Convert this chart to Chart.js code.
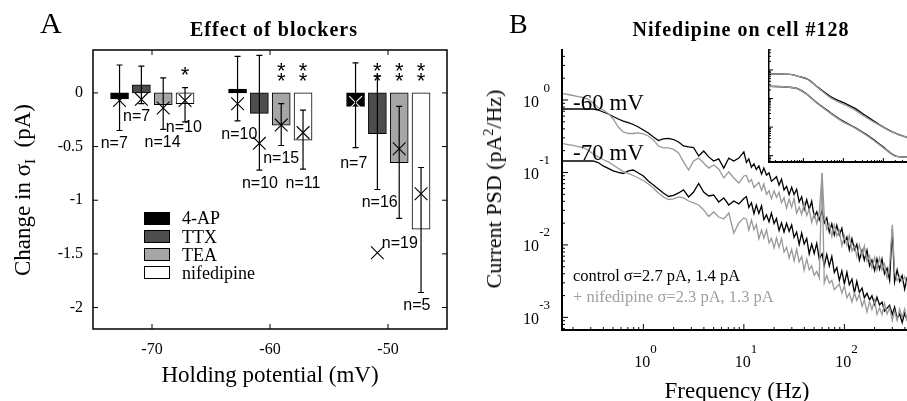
<!DOCTYPE html>
<html lang="en">
<head>
<meta charset="UTF-8">
<title>Effect of blockers / Nifedipine on cell #128</title>
<script src="https://cdn.jsdelivr.net/npm/chart.js"></script>
<style>
  body { margin: 0; background: #fff; }
  #fig { position: relative; width: 907px; height: 401px; overflow: hidden; font-family: 'Liberation Serif', serif; color: #000; }
  #fig canvas { position: absolute; }
  .t { position: absolute; line-height: 1; white-space: nowrap; }
  .c { transform: translateX(-50%); }
  .rot { transform: translate(-50%, -50%) rotate(-90deg); }
  .title { font-weight: bold; font-size: 20px; letter-spacing: 1px; }
  .key { position: absolute; left: 144px; width: 24px; height: 11px; border: 1px solid #000; }
</style>
</head>
<body>
<div id="fig">
  <canvas id="chartA" width="460" height="401" style="left:0;top:0"></canvas>
  <canvas id="chartB" width="447" height="401" style="left:460px;top:0"></canvas>
  <canvas id="inset" width="147" height="130" style="left:760px;top:40px"></canvas>

  <div class="t" style="left:40px;top:8px;font-size:30px">A</div>
  <div class="t" style="left:509px;top:10px;font-size:28px">B</div>
  <div class="t c title" style="left:274px;top:19px">Effect of blockers</div>
  <div class="t c title" style="left:741px;top:19px">Nifedipine on cell #128</div>

  <div class="t c" style="left:270px;top:363px;font-size:23px">Holding potential (mV)</div>
  <div class="t rot" style="left:22px;top:190px;font-size:23px">Change in σ<span style="font-size:15px;position:relative;top:5px">I</span>&nbsp;&nbsp;(pA)</div>
  <div class="t c" style="left:737px;top:379px;font-size:23px">Frequency (Hz)</div>
  <div class="t rot" style="left:494px;top:189px;font-size:22px">Current PSD (pA<span style="font-size:14px;position:relative;top:-8px">2</span>/Hz)</div>

  <div class="key" style="top:212px;background:#000"></div>
  <div class="key" style="top:230px;background:#4d4d4d"></div>
  <div class="key" style="top:248px;background:#a6a6a6"></div>
  <div class="key" style="top:266px;background:#fff"></div>
  <div class="t" style="left:182px;top:209px;font-size:18px">4-AP</div>
  <div class="t" style="left:182px;top:228px;font-size:18px">TTX</div>
  <div class="t" style="left:182px;top:246px;font-size:18px">TEA</div>
  <div class="t" style="left:182px;top:264px;font-size:18px">nifedipine</div>

  <div class="t" style="left:573px;top:91px;font-size:23px">-60 mV</div>
  <div class="t" style="left:573px;top:141px;font-size:23px">-70 mV</div>
  <div class="t" style="left:573px;top:268px;font-size:16.5px">control σ=2.7 pA, 1.4 pA</div>
  <div class="t" style="left:573px;top:289px;font-size:16.5px;color:#a0a0a0">+ nifedipine σ=2.3 pA, 1.3 pA</div>
</div>

<script>
// ---- panel A: change in current noise per blocker ----
const holdingPotentials = [-70, -60, -50];
const blockers = ['4-AP', 'TTX', 'TEA', 'nifedipine'];
const blockerOffset = [-2.75, -0.9, 0.95, 2.8]; // mV, bar position within a group
const barColors = ['#000000', '#4d4d4d', '#a6a6a6', '#ffffff'];

// rows: blockers, columns: holding potentials
const meanChange = [
  [-0.055, 0.035, -0.125],
  [0.075, -0.19, -0.38],
  [-0.11, -0.30, -0.65],
  [-0.10, -0.44, -1.27]
];
const errTop = [
  [0.26, 0.34, 0.28],
  [0.25, 0.35, 0.16],
  [0.14, -0.10, -0.125],
  [0.05, -0.16, -0.695]
];
const errBottom = [
  [-0.35, -0.26, -0.51],
  [-0.10, -0.72, -0.90],
  [-0.34, -0.49, -1.17],
  [-0.27, -0.71, -1.86]
];
const medianChange = [
  [-0.07, -0.10, -0.09],
  [-0.06, -0.47, -1.49],
  [-0.14, -0.30, -0.52],
  [-0.07, -0.37, -0.94]
];
const cellCounts = [
  [7, 10, 7],
  [7, 10, 16],
  [14, 15, 19],
  [10, 11, 5]
];
const countLabelX = [
  [-73.2, -62.6, -52.9],
  [-71.3, -60.85, -50.7],
  [-69.1, -59.05, -49.0],
  [-67.3, -57.2, -47.55]
];
const countLabelY = [
  [-0.46, -0.37, -0.64],
  [-0.21, -0.83, -1.01],
  [-0.45, -0.60, -1.39],
  [-0.31, -0.83, -1.97]
];
const starCount = [
  [0, 0, 0],
  [0, 0, 2],
  [0, 2, 2],
  [1, 2, 2]
];
const xTicksA = [-70, -60, -50];
const yTicksA = [0, -0.5, -1, -1.5, -2];

// ---- panel B: current PSD, control vs nifedipine ----
const freqHz = [0.158, 0.178, 0.2, 0.224, 0.251, 0.282, 0.316, 0.355, 0.398, 0.447, 0.501, 0.562, 0.631, 0.708, 0.794, 0.891,
  1, 1.12, 1.26, 1.41, 1.58, 1.78, 2, 2.24, 2.51, 2.82, 3.16, 3.55, 3.98, 4.47, 5.01, 5.62, 6.31, 7.08, 7.94, 8.91, 10,
  10.6, 11.2, 11.9, 12.6, 13.3, 14.1, 15, 15.8, 16.8, 17.8, 18.8, 20, 21.1, 22.4, 23.7, 25.1, 26.6, 28.2, 29.9, 31.6,
  33.5, 35.5, 37.6, 39.8, 42.2, 44.7, 47.3, 50.1, 53.1, 56.2, 60, 63.1, 66.8, 70.8, 75, 79.4, 84.1, 89.1, 94.4, 100,
  106, 112, 119, 126, 133, 141, 150, 158, 168, 178, 188, 200, 211, 224, 237, 251, 266, 282, 300, 316, 335, 355, 376, 398, 422];
const psdCtrl60 = [0.751, 0.751, 0.751, 0.751, 0.751, 0.751, 0.751, 0.728, 0.683, 0.641, 0.592, 0.547, 0.513, 0.489, 0.459, 0.424,
  0.386, 0.351, 0.309, 0.276, 0.290, 0.296, 0.285, 0.263, 0.232, 0.225, 0.221, 0.169, 0.198, 0.164, 0.144, 0.154, 0.115, 0.158, 0.144, 0.158, 0.192,
  0.138, 0.154, 0.118, 0.132, 0.110, 0.123, 0.0948, 0.115, 0.0921, 0.0987,
  0.0759, 0.0813, 0.0872, 0.0670, 0.0812, 0.0575, 0.0642, 0.0494, 0.0624, 0.0497,
  0.0587, 0.0392, 0.0463, 0.0309, 0.0421, 0.0309, 0.0401, 0.0243, 0.0287, 0.0221,
  0.0301, 0.0201, 0.0237, 0.0151, 0.0196, 0.0137, 0.0187, 0.0137, 0.0170, 0.0108,
  0.0128, 0.00856, 0.0122, 0.00859, 0.0102, 0.00617, 0.00842, 0.00619, 0.00845, 0.00513,
  0.00619, 0.00442, 0.00645, 0.00461, 0.00641, 0.00397, 0.00479, 0.00326, 0.0166, 0.00309,
  0.00453, 0.00311, 0.00377, 0.00246, 0.00362];
const psdNif60 = [1.229, 1.191, 1.154, 1.117, 1.083, 1.032, 0.909, 0.788, 0.728, 0.651, 0.547, 0.424, 0.362, 0.345, 0.345, 0.351,
  0.340, 0.319, 0.281, 0.232, 0.218, 0.218, 0.208, 0.186, 0.140, 0.108, 0.144, 0.158, 0.135, 0.115, 0.127, 0.112, 0.0840, 0.102, 0.0840, 0.0716, 0.0895,
  0.0909, 0.0737, 0.0798, 0.0621, 0.0672, 0.0728, 0.0566, 0.0694, 0.0497, 0.0561,
  0.0436, 0.0557, 0.0452, 0.0531, 0.0381, 0.0448, 0.0321, 0.0427, 0.0332, 0.0438,
  0.0274, 0.0333, 0.0264, 0.0371, 0.0255, 0.0311, 0.0204, 0.0273, 0.0197, 0.0276,
  0.0984, 0.0255, 0.0163, 0.0195, 0.0131, 0.0189, 0.0133, 0.0158, 0.00969, 0.0133,
  0.00984, 0.0135, 0.00826, 0.00984, 0.00694, 0.0100, 0.00705, 0.00969, 0.00592, 0.00705,
  0.00480, 0.00668, 0.00455, 0.00664, 0.00452, 0.00545, 0.00354, 0.00516, 0.0189, 0.00424,
  0.00322, 0.00375, 0.00313, 0.00364, 0.00276];
const psdCtrl70 = [0.144, 0.144, 0.144, 0.144, 0.144, 0.144, 0.144, 0.137, 0.123, 0.114, 0.105, 0.100, 0.0969, 0.105, 0.108, 0.0984,
  0.0895, 0.0763, 0.0672, 0.0592, 0.0522, 0.0467, 0.0482, 0.0522, 0.0574, 0.0459, 0.0538, 0.0705, 0.0538, 0.0474, 0.0489, 0.0392, 0.0445, 0.0356, 0.0404, 0.0368, 0.0438,
  0.0465, 0.0329, 0.0382, 0.0270, 0.0355, 0.0273, 0.0346, 0.0224, 0.0260, 0.0208,
  0.0276, 0.0197, 0.0231, 0.0158, 0.0202, 0.0150, 0.0199, 0.0154, 0.0189, 0.0127,
  0.0151, 0.0102, 0.0146, 0.0103, 0.0123, 0.00751, 0.0103, 0.00763, 0.0105, 0.00641,
  0.00751, 0.00521, 0.00739, 0.00513, 0.00694, 0.00417, 0.00489, 0.00324, 0.00438, 0.00290,
  0.00419, 0.00282, 0.00337, 0.00217, 0.00314, 0.00222, 0.00253, 0.00187, 0.00215, 0.00174,
  0.00200, 0.00150, 0.00190, 0.00149, 0.00163, 0.00122, 0.00134, 0.00147, 0.00110, 0.00139,
  0.000963, 0.00112, 0.000850, 0.00114, 0.000909];
const psdNif70 = [0.251, 0.243, 0.236, 0.228, 0.221, 0.204, 0.180, 0.164, 0.151, 0.140, 0.127, 0.114, 0.103, 0.0969, 0.0909, 0.0840,
  0.0776, 0.0694, 0.0611, 0.0522, 0.0459, 0.0424, 0.0431, 0.0459, 0.0445, 0.0404, 0.0380, 0.0356, 0.0304, 0.0247, 0.0285, 0.0243, 0.0228, 0.0276, 0.0146, 0.0201, 0.0236,
  0.0227, 0.0160, 0.0220, 0.0162, 0.0191, 0.0122, 0.0161, 0.0124, 0.0162, 0.0107,
  0.0123, 0.00912, 0.0125, 0.00927, 0.0122, 0.00798, 0.00930, 0.00660, 0.00870, 0.00602,
  0.00867, 0.00583, 0.00694, 0.00445, 0.00641, 0.00452, 0.00513, 0.00380, 0.00431, 0.00350,
  0.0984, 0.00300, 0.00378, 0.00296, 0.00324, 0.00242, 0.00264, 0.00289, 0.00216, 0.00272,
  0.00186, 0.00216, 0.00162, 0.00217, 0.00171, 0.00208, 0.00143, 0.00173, 0.00119, 0.00166,
  0.00128, 0.00174, 0.00110, 0.00136, 0.00110, 0.00157, 0.00111, 0.00136, 0.000903, 0.00123,
  0.000906, 0.00130, 0.00100, 0.00131, 0.000881];
const psdXTicks = [1, 10, 100];
const psdXExp = ['0', '1', '2'];
const psdYTicks = [0.001, 0.01, 0.1, 1];
const psdYExp = ['-3', '-2', '-1', '0'];

// inset: fitted spectra
const insetFreq60 = [0.138, 0.47, 0.75, 1.33, 2.37, 5.13, 11, 19.6, 34.9, 75, 162, 390];
const insetCtrl60 = [0.736, 0.70, 0.60, 0.46, 0.24, 0.11, 0.068, 0.045, 0.026, 0.0128, 0.0070, 0.0043];
const insetNif60 = [0.736, 0.70, 0.60, 0.455, 0.234, 0.100, 0.060, 0.039, 0.023, 0.0122, 0.0069, 0.0043];
const insetFreq70 = [0.138, 0.62, 1.10, 1.96, 4.2, 9.1, 19.6, 42, 91, 196, 288, 390];
const insetCtrl70 = [0.267, 0.234, 0.158, 0.080, 0.0361, 0.0172, 0.0096, 0.0049, 0.0022, 0.00099, 0.00091, 0.00091];
const insetNif70 = [0.267, 0.234, 0.156, 0.078, 0.0345, 0.0163, 0.0092, 0.0047, 0.0021, 0.00097, 0.00091, 0.00091];

const serif = 'Liberation Serif';

// box, inward ticks, error bars, n labels and stars for panel A
const panelAExtras = {
  id: 'panelAExtras',
  afterDraw(chart) {
    const { ctx, chartArea: a, scales: { x, y } } = chart;
    ctx.save();
    ctx.strokeStyle = '#000';
    ctx.lineWidth = 1.5;
    ctx.strokeRect(a.left, a.top, a.right - a.left, a.bottom - a.top);

    ctx.lineWidth = 1;
    ctx.beginPath();
    xTicksA.forEach(v => {
      const px = x.getPixelForValue(v);
      ctx.moveTo(px, a.bottom); ctx.lineTo(px, a.bottom - 5);
      ctx.moveTo(px, a.top); ctx.lineTo(px, a.top + 5);
    });
    yTicksA.forEach(v => {
      const py = y.getPixelForValue(v);
      ctx.moveTo(a.left, py); ctx.lineTo(a.left + 5, py);
      ctx.moveTo(a.right, py); ctx.lineTo(a.right - 5, py);
    });
    ctx.stroke();

    // error bars
    ctx.lineWidth = 1.2;
    ctx.beginPath();
    blockers.forEach((b, i) => {
      holdingPotentials.forEach((hp, j) => {
        const px = x.getPixelForValue(hp + blockerOffset[i]);
        const top = y.getPixelForValue(errTop[i][j]);
        const bot = y.getPixelForValue(errBottom[i][j]);
        ctx.moveTo(px, top); ctx.lineTo(px, bot);
        ctx.moveTo(px - 3, top); ctx.lineTo(px + 3, top);
        ctx.moveTo(px - 3, bot); ctx.lineTo(px + 3, bot);
      });
    });
    ctx.stroke();

    // n= labels
    ctx.fillStyle = '#000';
    ctx.textAlign = 'center';
    ctx.textBaseline = 'alphabetic';
    ctx.font = "16px 'Liberation Sans'";
    blockers.forEach((b, i) => {
      holdingPotentials.forEach((hp, j) => {
        ctx.fillText('n=' + cellCounts[i][j], x.getPixelForValue(countLabelX[i][j]), y.getPixelForValue(countLabelY[i][j]) + 6);
      });
    });

    // significance stars
    ctx.font = "22px 'Liberation Sans'";
    blockers.forEach((b, i) => {
      holdingPotentials.forEach((hp, j) => {
        const n = starCount[i][j];
        const levels = n === 1 ? [0.215] : n === 2 ? [0.255, 0.166] : [];
        levels.forEach(lv => {
          ctx.fillText('*', x.getPixelForValue(hp + blockerOffset[i]), y.getPixelForValue(lv) + 12.5);
        });
      });
    });
    ctx.restore();
  }
};

const barSets = blockers.map((name, i) => ({
  type: 'bar',
  label: name,
  order: 2,
  data: holdingPotentials.map((hp, j) => ({ x: hp + blockerOffset[i], y: meanChange[i][j] })),
  backgroundColor: barColors[i],
  borderColor: '#000',
  borderWidth: 1,
  borderSkipped: false,
  barThickness: 18,
  grouped: false
}));

const markerSets = blockers.map((name, i) => ({
  type: 'scatter',
  label: name + ' median',
  order: 1,
  data: holdingPotentials.map((hp, j) => ({ x: hp + blockerOffset[i], y: medianChange[i][j] })),
  showLine: false,
  pointStyle: 'crossRot',
  pointRadius: 9,
  pointBorderWidth: 1.1,
  pointBorderColor: i === 0 ? ['#000', '#000', '#fff'] : '#000'
}));

new Chart(document.getElementById('chartA'), {
  type: 'bar',
  data: { datasets: [...barSets, ...markerSets] },
  options: {
    responsive: false,
    animation: false,
    devicePixelRatio: 1,
    layout: { padding: { top: 50, right: 13, left: 0, bottom: 0 } },
    plugins: { legend: { display: false }, tooltip: { enabled: false } },
    scales: {
      x: {
        type: 'linear', min: -75, max: -45, offset: false,
        afterBuildTicks: s => { s.ticks = xTicksA.map(v => ({ value: v })); },
        afterFit: s => { s.height = 72; },
        grid: { display: false, drawTicks: false },
        border: { display: false },
        ticks: { padding: 11, color: '#000', font: { family: serif, size: 16 }, maxRotation: 0, autoSkip: false, callback: v => String(v) }
      },
      y: {
        type: 'linear', min: -2.2, max: 0.4,
        afterBuildTicks: s => { s.ticks = yTicksA.map(v => ({ value: v })); },
        afterFit: s => { s.width = 93; },
        grid: { display: false, drawTicks: false },
        border: { display: false },
        ticks: { padding: 10, color: '#000', font: { family: serif, size: 16 }, autoSkip: false, callback: v => String(v) }
      }
    }
  },
  plugins: [panelAExtras]
});

// log-axis frame: inward major/minor ticks and 10^n labels
function logSteps(lo, hi) {
  const out = [];
  for (let k = Math.floor(Math.log10(lo)); k <= Math.ceil(Math.log10(hi)); k++) {
    for (let m = 1; m <= 9; m++) {
      const v = m * Math.pow(10, k);
      if (v >= lo * 0.999 && v <= hi * 1.001) out.push({ v, major: m === 1 });
    }
  }
  return out;
}

const logFrame = {
  id: 'logFrame',
  afterDraw(chart, args, opts) {
    const { ctx, chartArea: a, scales: { x, y } } = chart;
    ctx.save();
    ctx.strokeStyle = '#000';
    ctx.lineWidth = 1;
    ctx.beginPath();
    logSteps(x.min, x.max).forEach(t => {
      const px = x.getPixelForValue(t.v);
      ctx.moveTo(px, a.bottom); ctx.lineTo(px, a.bottom - (t.major ? opts.major : opts.minor));
    });
    logSteps(y.min, y.max).forEach(t => {
      const py = y.getPixelForValue(t.v);
      ctx.moveTo(a.left, py); ctx.lineTo(a.left + (t.major ? opts.major : opts.minor), py);
    });
    ctx.stroke();

    if (opts.labels) {
      ctx.fillStyle = '#000';
      ctx.textBaseline = 'alphabetic';
      psdXTicks.forEach((v, k) => {
        const px = x.getPixelForValue(v);
        ctx.font = `16px '${serif}'`; ctx.textAlign = 'right';
        ctx.fillText('10', px + 7, a.bottom + 37);
        ctx.font = `13px '${serif}'`; ctx.textAlign = 'left';
        ctx.fillText(psdXExp[k], px + 7, a.bottom + 23);
      });
      psdYTicks.forEach((v, k) => {
        const py = y.getPixelForValue(v);
        ctx.font = `16px '${serif}'`; ctx.textAlign = 'right';
        ctx.fillText('10', a.left - 23, py + 6.5);
        ctx.font = `13px '${serif}'`;
        ctx.fillText(psdYExp[k], a.left - 12, py - 8.5);
      });
    }
    ctx.restore();
  }
};

const toPoints = (xs, ys) => xs.map((f, k) => ({ x: f, y: ys[k] }));
const psdLine = (label, xs, ys, color, order) => ({
  label, data: toPoints(xs, ys), borderColor: color, borderWidth: 1.3,
  pointRadius: 0, fill: false, tension: 0, order
});

new Chart(document.getElementById('chartB'), {
  type: 'line',
  data: {
    datasets: [
      psdLine('control -60 mV', freqHz, psdCtrl60, '#000', 2),
      psdLine('control -70 mV', freqHz, psdCtrl70, '#000', 2),
      psdLine('nifedipine -60 mV', freqHz, psdNif60, '#999', 1),
      psdLine('nifedipine -70 mV', freqHz, psdNif70, '#999', 1)
    ]
  },
  options: {
    responsive: false,
    animation: false,
    devicePixelRatio: 1,
    layout: { padding: { top: 50, right: 0, left: 0, bottom: 0 } },
    plugins: { legend: { display: false }, tooltip: { enabled: false }, logFrame: { major: 6, minor: 3, labels: true } },
    scales: {
      x: {
        type: 'logarithmic', min: 0.155, max: 420,
        afterBuildTicks: s => { s.ticks = psdXTicks.map(v => ({ value: v })); },
        afterFit: s => { s.height = 71; },
        grid: { display: false, drawTicks: false },
        border: { display: true, color: '#000', width: 2 },
        ticks: { display: false }
      },
      y: {
        type: 'logarithmic', min: 6.7e-4, max: 4.9,
        afterBuildTicks: s => { s.ticks = psdYTicks.map(v => ({ value: v })); },
        afterFit: s => { s.width = 102; },
        grid: { display: false, drawTicks: false },
        border: { display: true, color: '#000', width: 2 },
        ticks: { display: false }
      }
    }
  },
  plugins: [logFrame]
});

const insetLine = (label, xs, ys, color) => ({
  label, data: toPoints(xs, ys), borderColor: color, borderWidth: 1.4,
  pointRadius: 0, fill: false, cubicInterpolationMode: 'monotone'
});

new Chart(document.getElementById('inset'), {
  type: 'line',
  data: {
    datasets: [
      insetLine('nifedipine -60 mV', insetFreq60, insetNif60, '#999'),
      insetLine('nifedipine -70 mV', insetFreq70, insetNif70, '#999'),
      insetLine('control -60 mV', insetFreq60, insetCtrl60, '#000'),
      insetLine('control -70 mV', insetFreq70, insetCtrl70, '#000')
    ]
  },
  options: {
    responsive: false,
    animation: false,
    devicePixelRatio: 1,
    layout: { padding: { top: 10, right: 0, left: 9, bottom: 8 } },
    plugins: { legend: { display: false }, tooltip: { enabled: false }, logFrame: { major: 4, minor: 2, labels: false } },
    scales: {
      x: {
        type: 'logarithmic', min: 0.138, max: 390,
        afterFit: s => { s.height = 0; },
        grid: { display: false, drawTicks: false },
        border: { display: true, color: '#000', width: 2 },
        ticks: { display: false }
      },
      y: {
        type: 'logarithmic', min: 6.3e-4, max: 5,
        afterFit: s => { s.width = 0; },
        grid: { display: false, drawTicks: false },
        border: { display: true, color: '#000', width: 1.5 },
        ticks: { display: false }
      }
    }
  },
  plugins: [logFrame]
});
</script>
</body>
</html>
